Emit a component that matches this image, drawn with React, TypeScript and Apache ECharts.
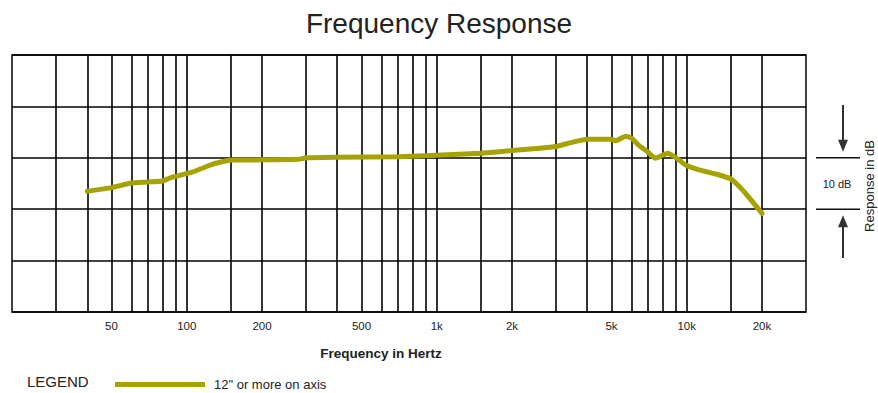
import React, { useEffect, useRef } from "react";
import * as echarts from "echarts";

// Measured response curve (Hz, dB)
const freqs = [40, 50, 60, 70, 80, 86, 105, 128, 150, 200, 280, 300, 400, 700, 1000, 1500, 2000, 2500, 3000, 3500, 4000, 5000, 5200, 5700, 6000, 6400, 7000, 7500, 8400, 9000, 9900, 11300, 13200, 15000, 16300, 17800, 20000];
const response = [-6.5, -5.8, -4.9, -4.7, -4.5, -3.9, -2.8, -1.2, -0.45, -0.4, -0.3, 0, 0.1, 0.2, 0.5, 0.9, 1.4, 1.8, 2.2, 3.05, 3.6, 3.6, 3.3, 4.2, 3.9, 2.5, 1.1, -0.1, 0.9, 0.1, -1.4, -2.4, -3.2, -4.1, -5.7, -7.8, -10.8];

// Vertical grid lines (Hz)
const gridFreqs = [30, 40, 50, 60, 70, 80, 90, 100, 150, 200, 300, 400, 500, 600, 700, 800, 900, 1000, 1500, 2000, 3000, 4000, 5000, 6000, 7000, 8000, 9000, 10000, 15000, 20000];
// Labelled ticks
const tickFreqs = [50, 100, 200, 500, 1000, 2000, 5000, 10000, 20000];
const tickLabels = ["50", "100", "200", "500", "1k", "2k", "5k", "10k", "20k"];

const seriesName = '12" or more on axis';
const FONT = "'Liberation Sans', Arial, sans-serif";
const LINE_COLOR = "#a6a300";

export default function App() {
  const ref = useRef<HTMLDivElement>(null);

  useEffect(() => {
    if (!ref.current) return;
    const chart = echarts.init(ref.current, null, { renderer: "svg" });

    const markData = gridFreqs.map((f) => {
      const idx = tickFreqs.indexOf(f);
      return {
        xAxis: f,
        label:
          idx >= 0
            ? {
                show: true,
                position: "start",
                distance: 8,
                formatter: tickLabels[idx],
                fontSize: 11.5,
                color: "#222",
                fontFamily: FONT,
              }
            : { show: false },
      };
    });

    chart.setOption({
      animation: false,
      textStyle: { fontFamily: FONT },
      title: {
        text: "Frequency Response",
        left: "center",
        top: 4,
        textStyle: { fontSize: 28, fontWeight: "normal", color: "#222", fontFamily: FONT },
      },
      grid: {
        left: 12,
        right: 72,
        top: 55,
        bottom: 81,
        show: true,
        borderColor: "#000",
        borderWidth: 1.5,
      },
      legend: {
        data: [seriesName],
        left: 110,
        top: 373,
        icon: "rect",
        itemWidth: 90,
        itemHeight: 5,
        textStyle: { fontSize: 13, color: "#222", fontFamily: FONT, padding: [0, 0, 0, 4] },
      },
      xAxis: {
        type: "log",
        logBase: 10,
        min: 20,
        max: 30000,
        axisLine: { show: false },
        axisTick: { show: false },
        axisLabel: { show: false },
        splitLine: { show: false },
      },
      yAxis: {
        type: "value",
        min: -30,
        max: 20,
        interval: 10,
        axisLine: { show: false },
        axisTick: { show: false },
        axisLabel: { show: false },
        splitLine: { show: true, lineStyle: { color: "#000", width: 1.6 } },
      },
      series: [
        {
          name: "_grid",
          type: "line",
          data: [],
          z: 1,
          silent: true,
          markLine: {
            silent: true,
            symbol: "none",
            animation: false,
            lineStyle: { type: "solid", color: "#000", width: 1.6 },
            data: markData,
          },
        },
        {
          name: seriesName,
          type: "line",
          z: 5,
          showSymbol: false,
          smooth: 0.15,
          lineStyle: { color: LINE_COLOR, width: 5, join: "round", cap: "round" },
          itemStyle: { color: LINE_COLOR },
          data: freqs.map((f, i) => [f, response[i]]),
        },
      ],
    });

    const y0 = chart.convertToPixel({ yAxisIndex: 0 }, 0) as number;
    const y10 = chart.convertToPixel({ yAxisIndex: 0 }, -10) as number;
    const ax = 843;
    const stroke = "#333";

    chart.setOption({
      graphic: [
        {
          type: "text",
          x: 381,
          y: 353,
          style: {
            text: "Frequency in Hertz",
            fontSize: 13.5,
            fontWeight: "bold",
            fill: "#222",
            align: "center",
            verticalAlign: "middle",
            fontFamily: FONT,
          },
        },
        {
          type: "text",
          x: 27,
          y: 381,
          style: {
            text: "LEGEND",
            fontSize: 15,
            fill: "#222",
            align: "left",
            verticalAlign: "middle",
            fontFamily: FONT,
          },
        },
        { type: "line", shape: { x1: 816, y1: y0, x2: 860, y2: y0 }, style: { stroke: "#111", lineWidth: 1.5 } },
        { type: "line", shape: { x1: 816, y1: y10, x2: 860, y2: y10 }, style: { stroke: "#111", lineWidth: 1.5 } },
        {
          type: "text",
          x: 837,
          y: (y0 + y10) / 2,
          style: { text: "10 dB", fontSize: 11, fill: "#222", align: "center", verticalAlign: "middle", fontFamily: FONT },
        },
        { type: "line", shape: { x1: ax, y1: 105, x2: ax, y2: y0 - 12 }, style: { stroke, lineWidth: 2 } },
        { type: "polygon", shape: { points: [[ax - 5, y0 - 18], [ax + 5, y0 - 18], [ax, y0 - 6]] }, style: { fill: stroke } },
        { type: "line", shape: { x1: ax, y1: y10 + 12, x2: ax, y2: 258 }, style: { stroke, lineWidth: 2 } },
        { type: "polygon", shape: { points: [[ax, y10 + 6], [ax - 5, y10 + 18], [ax + 5, y10 + 18]] }, style: { fill: stroke } },
        {
          type: "text",
          x: 869,
          y: 186,
          rotation: Math.PI / 2,
          style: {
            text: "Response in dB",
            fontSize: 13,
            fill: "#222",
            align: "center",
            verticalAlign: "middle",
            fontFamily: FONT,
          },
        },
      ],
    });

    return () => chart.dispose();
  }, []);

  return (
    <div
      ref={ref}
      style={{ position: "fixed", left: 0, top: 0, width: 878, height: 393, background: "#fff" }}
    />
  );
}
